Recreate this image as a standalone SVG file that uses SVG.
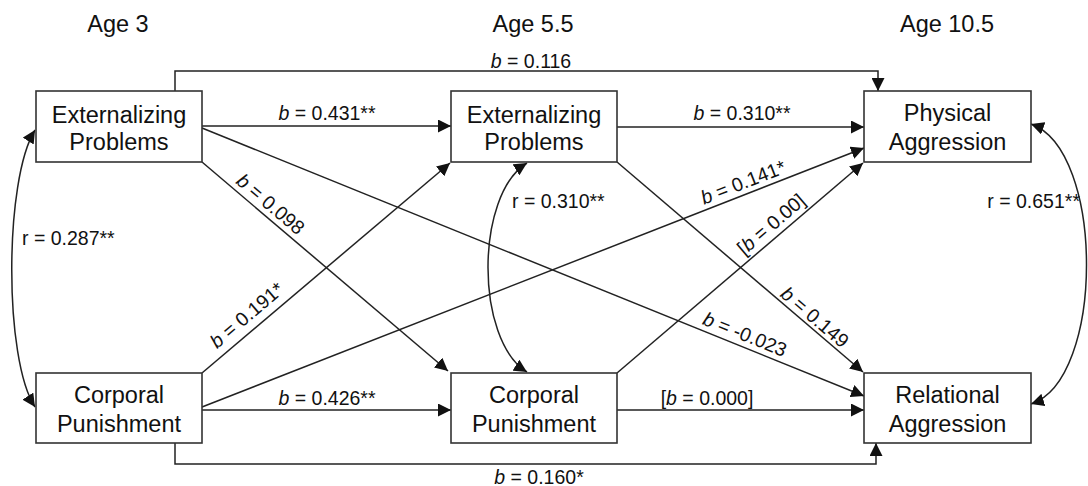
<svg xmlns="http://www.w3.org/2000/svg" width="1088" height="486" viewBox="0 0 1088 486">
<defs>
<style>
text{font-family:"Liberation Sans",Arial,sans-serif;fill:#111}
.title{font-size:23.5px;text-anchor:middle}
.node rect{fill:#fff;stroke:#333;stroke-width:1.6}
.node text{font-size:23.5px;text-anchor:middle}
.lbl{font-size:19.5px;text-anchor:middle}
.lbls{font-size:19.5px}
.conn path{fill:none;stroke:#222;stroke-width:1.5;marker-end:url(#ah)}
.conn path.dbl{marker-start:url(#ah)}
.i{font-style:italic}
</style>
<marker id="ah" viewBox="0 0 13 13" refX="13" refY="6.5" markerWidth="13" markerHeight="13" markerUnits="userSpaceOnUse" orient="auto-start-reverse">
<path d="M0,0 L13,6.5 L0,13 z" fill="#111"/>
</marker>
</defs>
<rect width="1088" height="486" fill="#fff"/>
<g id="titles">
<text class="title" x="118" y="32">Age 3</text>
<text class="title" x="533" y="32">Age 5.5</text>
<text class="title" x="947" y="32">Age 10.5</text>
</g>
<g id="connectors" class="conn">
<path d="M202,126 H451"/>
<path d="M617,127 H864"/>
<path d="M202,410 H451"/>
<path d="M617,410 H864"/>
<path d="M175,91 V71 H878 V91"/>
<path d="M175,443 V464 H876 V443"/>
<path d="M202,162 L448,371"/>
<path d="M202,128 L864,396"/>
<path d="M617,162 L863,372"/>
<path d="M202,373 L450,163"/>
<path d="M202,407 L864,148"/>
<path d="M617,373 L863,163"/>
<path class="dbl" d="M35,130 C4,180 4,360 35,407"/>
<path class="dbl" d="M527,163 C475,195 475,340 527,372"/>
<path class="dbl" d="M1031,124 C1105,150 1105,380 1031,404"/>
</g>
<g id="labels">
<text class="lbl" x="327" y="120"><tspan class="i">b</tspan> = 0.431**</text>
<text class="lbl" x="742" y="120"><tspan class="i">b</tspan> = 0.310**</text>
<text class="lbl" x="327" y="405"><tspan class="i">b</tspan> = 0.426**</text>
<text class="lbl" x="707" y="405">[<tspan class="i">b</tspan> = 0.000]</text>
<text class="lbl" x="531" y="68"><tspan class="i">b</tspan> = 0.116</text>
<text class="lbl" x="539" y="484"><tspan class="i">b</tspan> = 0.160*</text>
<text class="lbl" transform="translate(266.3,209.3) rotate(40.3)"><tspan class="i">b</tspan> = 0.098</text>
<text class="lbl" transform="translate(742.4,340.5) rotate(22)"><tspan class="i">b</tspan> = -0.023</text>
<text class="lbl" transform="translate(810.5,322.3) rotate(40.5)"><tspan class="i">b</tspan> = 0.149</text>
<text class="lbl" transform="translate(251.2,320.3) rotate(-40.3)"><tspan class="i">b</tspan> = 0.191*</text>
<text class="lbl" transform="translate(745.6,188.5) rotate(-21.4)"><tspan class="i">b</tspan> = 0.141*</text>
<text class="lbl" transform="translate(775.5,229.3) rotate(-40.5)">[<tspan class="i">b</tspan> = 0.00]</text>
<text class="lbls" x="22" y="245">r = 0.287**</text>
<text class="lbls" x="512" y="208">r = 0.310**</text>
<text class="lbls" x="1080" y="208" text-anchor="end">r = 0.651**</text>
</g>
<g id="ext3" class="node">
<rect x="36" y="91" width="166" height="71"/>
<text x="119" y="123">Externalizing</text>
<text x="119" y="150">Problems</text>
</g>
<g id="ext55" class="node">
<rect x="451" y="91" width="166" height="71"/>
<text x="534" y="123">Externalizing</text>
<text x="534" y="150">Problems</text>
</g>
<g id="phys" class="node">
<rect x="864" y="91" width="167" height="71"/>
<text x="947.5" y="121">Physical</text>
<text x="947.5" y="150">Aggression</text>
</g>
<g id="corp3" class="node">
<rect x="36" y="373" width="166" height="70"/>
<text x="119" y="403">Corporal</text>
<text x="119" y="432">Punishment</text>
</g>
<g id="corp55" class="node">
<rect x="451" y="373" width="166" height="70"/>
<text x="534" y="403">Corporal</text>
<text x="534" y="432">Punishment</text>
</g>
<g id="rel" class="node">
<rect x="864" y="373" width="167" height="70"/>
<text x="947.5" y="403">Relational</text>
<text x="947.5" y="432">Aggression</text>
</g>
</svg>
